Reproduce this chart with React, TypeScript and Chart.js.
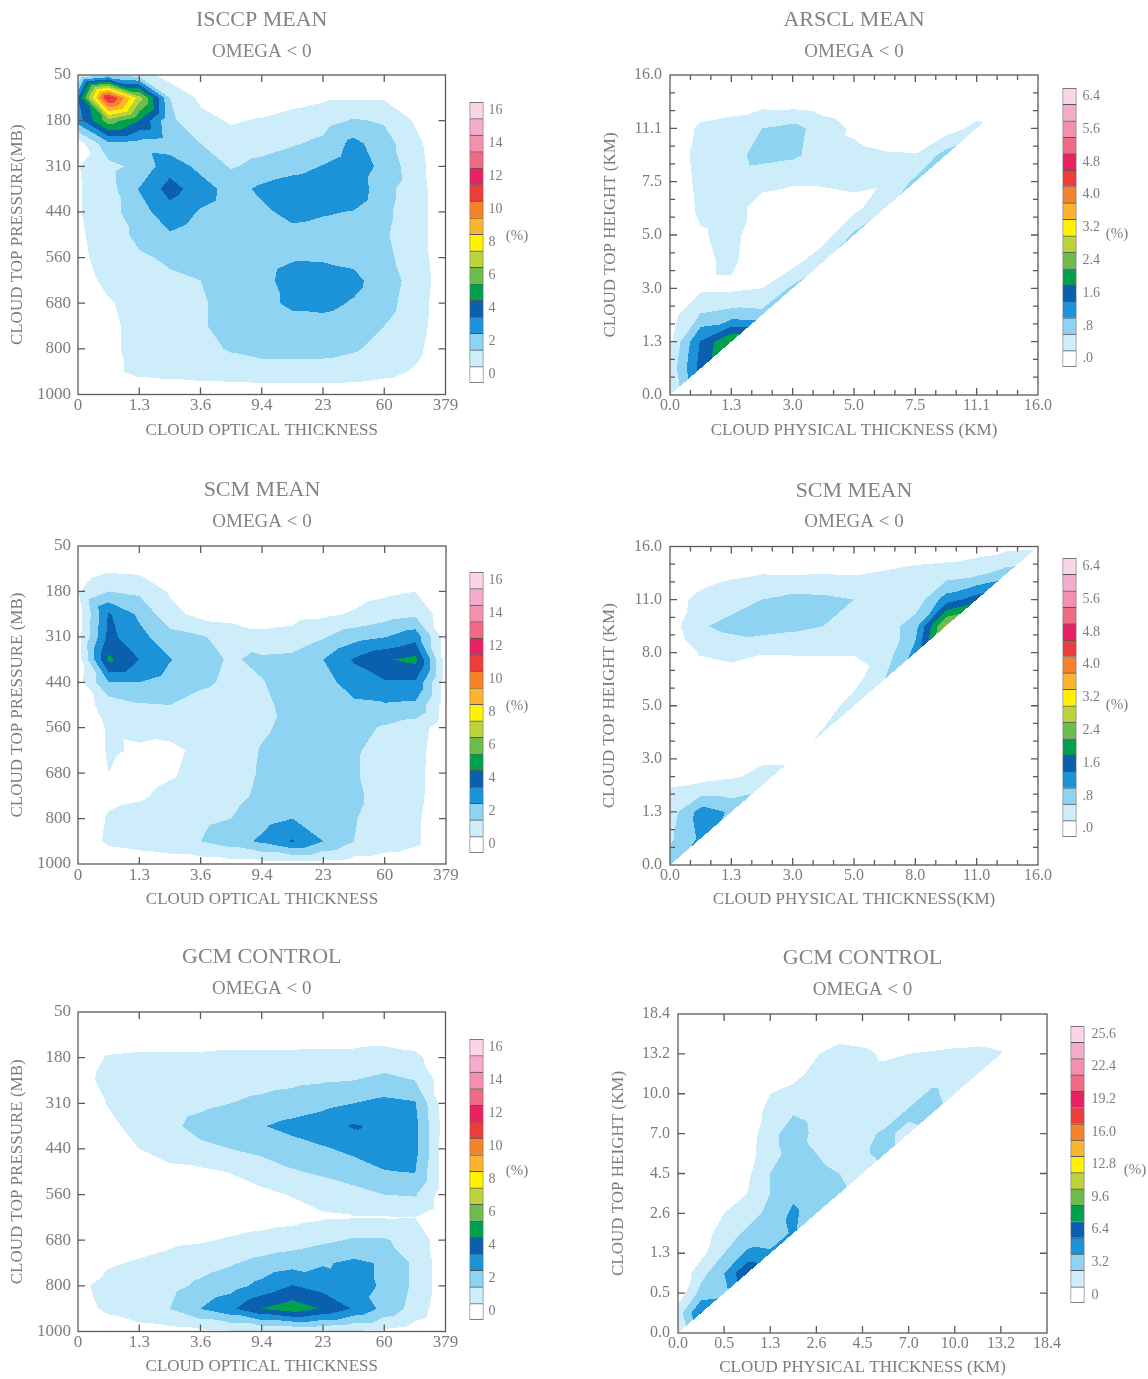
import React, { useEffect, useRef } from "react";
import { Chart, registerables } from "chart.js";

Chart.register(...registerables);

const SERIF = '"Liberation Serif", "Times New Roman", Times, serif';
const LABEL_COLOR = "#7c7c7c";
const TITLE_COLOR = "#838383";
const FRAME_COLOR = "#5a5a5a";

// contour level colours (level 0 = blank)
const LEVEL_COLORS = [
  "#ffffff", "#cdedfa", "#8fd3f3", "#1c93d8", "#0b60ae", "#00a04e",
  "#6cbd4b", "#bdd33a", "#fff100", "#fbb42d", "#f5832b", "#ee3b3b",
  "#e82260", "#ef6b84", "#f490ad", "#f5abcc", "#fad4e7",
];

// axis tick labels
const TAU_LABELS = ["0", "1.3", "3.6", "9.4", "23", "60", "379"];
const PC_LABELS = ["50", "180", "310", "440", "560", "680", "800", "1000"];
const ARSCL_KM_LABELS = ["0.0", "1.3", "3.0", "5.0", "7.5", "11.1", "16.0"];
const SCM_KM_LABELS = ["0.0", "1.3", "3.0", "5.0", "8.0", "11.0", "16.0"];
const GCM_KM_LABELS = ["0.0", "0.5", "1.3", "2.6", "4.5", "7.0", "10.0", "13.2", "18.4"];

// colour-bar labels
const CB_PCT_LABELS = ["0", "2", "4", "6", "8", "10", "12", "14", "16"];
const CB_RADAR_LABELS = [".0", ".8", "1.6", "2.4", "3.2", "4.0", "4.8", "5.6", "6.4"];
const CB_GCM_LABELS = ["0", "3.2", "6.4", "9.6", "12.8", "16.0", "19.2", "22.4", "25.6"];

// Cloud fraction (%) at half-bin nodes. Left panels: rows from top (50 mb) down to 1000 mb,
// columns from tau 0 to 379.  Right panels: rows from the top of the height axis downward.
const ISCCP_GRID = [
  [0.8, 2.0, 1.5, 0.5, 0, 0, 0, 0, 0, 0, 0, 0, 0],
  [4.0, 12.5, 7.5, 2.0, 0.8, 0.3, 0.3, 0.6, 0.85, 0.9, 0.9, 0.3, 0],
  [3.5, 6.6, 5.0, 2.2, 1.3, 0.9, 1.1, 1.4, 1.6, 2.1, 1.9, 0.9, 0],
  [0.5, 2.8, 2.6, 2.4, 2.0, 1.4, 1.6, 1.9, 2.2, 3.3, 2.4, 1.3, 0.2],
  [0.95, 1.7, 2.3, 3.6, 2.7, 1.9, 2.3, 2.6, 3.05, 3.6, 2.7, 1.4, 0.3],
  [0.9, 1.6, 3.05, 4.4, 3.5, 2.6, 3.2, 3.6, 3.8, 3.7, 2.3, 1.5, 0.3],
  [0.9, 1.6, 2.6, 3.6, 2.9, 2.5, 2.8, 3.3, 3.1, 2.95, 2.2, 1.5, 0.3],
  [0.8, 1.6, 2.2, 2.9, 2.5, 2.4, 2.5, 2.7, 2.6, 2.5, 2.1, 1.5, 0.3],
  [0.7, 1.5, 1.9, 2.1, 2.3, 2.4, 2.6, 2.9, 2.85, 2.7, 2.2, 1.6, 0.3],
  [0.5, 1.3, 1.6, 1.9, 2.0, 2.3, 2.7, 3.4, 3.6, 3.3, 2.4, 1.7, 0.4],
  [0.4, 0.9, 1.4, 1.6, 1.9, 2.3, 2.7, 3.2, 3.3, 2.9, 2.3, 1.6, 0.3],
  [0.3, 0.8, 1.3, 1.5, 1.9, 2.3, 2.5, 2.6, 2.6, 2.4, 2.0, 1.5, 0.3],
  [0.2, 0.8, 1.3, 1.5, 1.7, 2.1, 2.3, 2.3, 2.3, 2.1, 1.7, 1.3, 0.2],
  [0.1, 0.8, 1.2, 1.3, 1.4, 1.5, 1.6, 1.6, 1.6, 1.5, 1.3, 0.9, 0.1],
  [0, 0.2, 0.4, 0.4, 0.4, 0.4, 0.4, 0.4, 0.4, 0.4, 0.3, 0.2, 0],
];

const SCM_PC_GRID = [
  [0, 0, 0, 0, 0, 0, 0, 0, 0, 0, 0, 0, 0],
  [0.3, 0.8, 0.7, 0.2, 0, 0, 0, 0, 0, 0, 0.2, 0.4, 0],
  [0.9, 2.0, 1.8, 0.9, 0.3, 0.2, 0.2, 0.2, 0.3, 0.6, 0.8, 1.0, 0.2],
  [0.5, 4.1, 2.8, 1.3, 0.7, 0.6, 0.6, 0.7, 0.8, 1.1, 1.5, 1.8, 0.4],
  [0.6, 4.3, 3.3, 2.4, 2.1, 1.6, 1.2, 1.3, 1.9, 2.6, 2.95, 3.6, 0.5],
  [0.5, 5.2, 4.0, 3.05, 2.3, 1.9, 2.2, 2.3, 3.0, 4.1, 4.9, 5.3, 0.5],
  [0.6, 3.0, 3.0, 2.6, 2.2, 1.8, 1.95, 2.4, 2.6, 3.5, 3.9, 3.9, 0.5],
  [0.5, 1.4, 1.9, 2.0, 1.6, 1.4, 1.8, 2.3, 2.5, 2.8, 2.9, 2.8, 0.5],
  [0.3, 1.1, 1.2, 1.3, 1.4, 1.6, 1.9, 2.2, 2.5, 2.3, 1.9, 1.5, 0.4],
  [0.2, 1.1, 0.9, 0.8, 1.2, 1.6, 2.05, 2.3, 2.4, 2.1, 1.7, 1.4, 0.3],
  [0.1, 1.0, 0.7, 0.9, 1.3, 1.6, 2.1, 2.4, 2.4, 2.1, 1.6, 1.3, 0.3],
  [0.1, 0.8, 0.9, 1.2, 1.4, 1.7, 2.2, 2.5, 2.5, 2.2, 1.6, 1.3, 0.3],
  [0.2, 1.1, 1.3, 1.5, 1.8, 2.0, 2.6, 3.0, 2.6, 2.05, 1.6, 1.2, 0.2],
  [0.3, 1.2, 1.4, 1.6, 2.0, 2.5, 3.2, 4.1, 3.0, 2.0, 1.6, 1.2, 0.2],
  [0, 0.2, 0.4, 0.5, 0.5, 0.6, 0.6, 0.6, 0.6, 0.5, 0.4, 0.3, 0],
];

const GCM_PC_GRID = [
  [0, 0, 0, 0, 0, 0, 0, 0, 0, 0, 0, 0, 0],
  [0, 0.3, 0.4, 0.4, 0.4, 0.4, 0.4, 0.4, 0.4, 0.4, 0.4, 0.3, 0],
  [0.4, 1.1, 1.2, 1.2, 1.2, 1.3, 1.3, 1.3, 1.4, 1.4, 1.6, 1.3, 0.2],
  [0.5, 1.4, 1.4, 1.4, 1.5, 1.6, 1.7, 1.8, 1.9, 2.0, 2.2, 2.0, 0.4],
  [0.6, 1.05, 1.4, 1.6, 1.8, 2.0, 2.2, 2.4, 2.7, 3.0, 3.3, 3.1, 0.4],
  [0.3, 0.8, 1.3, 1.8, 2.3, 2.6, 2.95, 3.3, 3.6, 4.1, 3.8, 3.3, 0.5],
  [0.1, 0.6, 1.0, 1.5, 1.8, 2.0, 2.3, 2.6, 2.9, 3.2, 3.5, 3.3, 0.4],
  [0, 0.3, 0.6, 0.7, 0.8, 1.05, 1.4, 1.9, 2.2, 2.6, 2.95, 3.05, 0.4],
  [0, 0.1, 0.2, 0.3, 0.4, 0.5, 0.8, 1.05, 1.3, 1.6, 2.0, 2.1, 0.4],
  [0, 0.1, 0.2, 0.3, 0.4, 0.5, 0.6, 0.7, 0.9, 0.95, 0.95, 1.0, 0.3],
  [0, 0.4, 0.6, 0.8, 0.9, 1.1, 1.3, 1.5, 1.8, 2.1, 2.1, 1.6, 0.4],
  [0.3, 0.9, 1.1, 1.3, 1.6, 1.9, 2.3, 2.6, 2.9, 3.2, 2.9, 1.8, 0.4],
  [0.8, 1.3, 1.5, 1.7, 2.2, 2.6, 3.3, 4.05, 3.6, 3.3, 2.9, 1.8, 0.4],
  [0.6, 1.2, 1.6, 2.0, 3.0, 3.8, 5.0, 5.6, 4.9, 3.9, 2.7, 1.6, 0.3],
  [0, 0.4, 0.6, 0.7, 0.8, 0.9, 1.0, 1.0, 1.0, 0.9, 0.8, 0.5, 0],
];

const ARSCL_GRID = [
  [0, 0, 0, 0, 0, 0, 0, 0, 0, 0, 0, 0, 0],
  [0, 0.12, 0.2, 0.24, 0.2, 0.12, 0, 0, 0, 0, 0.08, 0, 0],
  [0.12, 0.48, 0.56, 0.8, 0.92, 0.64, 0.32, 0.16, 0.12, 0.2, 0.52, 0, 0],
  [0.12, 0.56, 0.64, 0.96, 0.88, 0.6, 0.52, 0.44, 0.42, 0.96, 0, 0, 0],
  [0.08, 0.52, 0.56, 0.48, 0.44, 0.44, 0.48, 0.44, 0.88, 0, 0, 0, 0],
  [0.04, 0.48, 0.52, 0.28, 0.2, 0.24, 0.28, 0.72, 0, 0, 0, 0, 0],
  [0.02, 0.36, 0.52, 0.16, 0.12, 0.2, 0.88, 0, 0, 0, 0, 0, 0],
  [0, 0.32, 0.48, 0.12, 0.24, 0.72, 0, 0, 0, 0, 0, 0, 0],
  [0.08, 0.32, 0.32, 0.4, 0.88, 0, 0, 0, 0, 0, 0, 0, 0],
  [0.24, 0.84, 0.96, 0.92, 0, 0, 0, 0, 0, 0, 0, 0, 0],
  [0.36, 1.64, 2.44, 0, 0, 0, 0, 0, 0, 0, 0, 0, 0],
  [0.52, 1.76, 0, 0, 0, 0, 0, 0, 0, 0, 0, 0, 0],
  [0.36, 0, 0, 0, 0, 0, 0, 0, 0, 0, 0, 0, 0],
];

const SCM_KM_GRID = [
  [0, 0, 0, 0, 0, 0, 0, 0, 0.12, 0.16, 0.2, 0.28, 0.32],
  [0, 0.12, 0.32, 0.38, 0.36, 0.38, 0.36, 0.44, 0.52, 0.56, 0.68, 0.96, 0],
  [0.16, 0.56, 0.64, 0.8, 0.92, 0.88, 0.8, 0.56, 0.52, 1.4, 1.8, 0, 0],
  [0.2, 0.76, 0.92, 1.0, 0.92, 0.8, 0.68, 0.56, 1.04, 2.92, 0, 0, 0],
  [0.04, 0.44, 0.52, 0.42, 0.42, 0.42, 0.42, 0.56, 1.32, 0, 0, 0, 0],
  [0, 0.12, 0.2, 0.2, 0.24, 0.28, 0.24, 0.8, 0, 0, 0, 0, 0],
  [0, 0, 0.12, 0.08, 0.12, 0.16, 0.6, 0, 0, 0, 0, 0, 0],
  [0, 0.08, 0, 0, 0.12, 0.44, 0, 0, 0, 0, 0, 0, 0],
  [0.08, 0.2, 0.28, 0.32, 0.32, 0, 0, 0, 0, 0, 0, 0, 0],
  [0.38, 0.42, 0.44, 0.64, 0, 0, 0, 0, 0, 0, 0, 0, 0],
  [0.6, 1.36, 1.16, 0, 0, 0, 0, 0, 0, 0, 0, 0, 0],
  [0.72, 1.28, 0, 0, 0, 0, 0, 0, 0, 0, 0, 0, 0],
  [1.04, 0, 0, 0, 0, 0, 0, 0, 0, 0, 0, 0, 0],
];

const GCM_KM_GRID = [
  [0, 0, 0, 0, 0, 0, 0, 0, 0, 0, 0, 0, 0, 0, 0, 0, 0],
  [0, 0, 0, 0, 0, 0, 0.48, 1.12, 0.96, 0.64, 0.48, 0.64, 0.8, 0.8, 0.64, 0, 0],
  [0, 0, 0, 0, 0, 0.96, 1.52, 2.08, 1.92, 1.36, 1.6, 1.76, 1.92, 2.08, 1.76, 0, 0],
  [0, 0, 0, 0.48, 1.28, 1.28, 1.92, 2.24, 2.08, 2.08, 2.24, 2.4, 2.4, 2.24, 0, 0, 0],
  [0, 0, 0, 0.48, 1.6, 1.92, 2.08, 2.24, 2.08, 2.08, 2.4, 3.52, 2.56, 0, 0, 0, 0],
  [0, 0, 0.64, 0.8, 2.08, 3.12, 2.56, 2.24, 2.24, 2.4, 3.52, 3.84, 0, 0, 0, 0, 0],
  [0, 0, 0.32, 0.8, 2.56, 4.16, 2.72, 2.4, 2.72, 3.52, 2.72, 0, 0, 0, 0, 0, 0],
  [0, 0, 0.32, 0.96, 2.56, 3.84, 3.2, 2.72, 3.04, 3.52, 0, 0, 0, 0, 0, 0, 0],
  [0, 0, 0.32, 1.28, 3.2, 4.0, 3.52, 3.2, 2.56, 0, 0, 0, 0, 0, 0, 0, 0],
  [0, 0, 0.8, 1.6, 3.2, 4.48, 3.68, 3.52, 0, 0, 0, 0, 0, 0, 0, 0, 0],
  [0, 0.64, 1.6, 2.4, 3.68, 5.12, 3.84, 0, 0, 0, 0, 0, 0, 0, 0, 0, 0],
  [0, 0.8, 2.4, 3.52, 4.16, 4.96, 0, 0, 0, 0, 0, 0, 0, 0, 0, 0, 0],
  [0, 1.12, 3.2, 5.12, 4.96, 0, 0, 0, 0, 0, 0, 0, 0, 0, 0, 0, 0],
  [0.32, 2.56, 4.8, 8.0, 0, 0, 0, 0, 0, 0, 0, 0, 0, 0, 0, 0, 0],
  [0.48, 3.84, 4.16, 0, 0, 0, 0, 0, 0, 0, 0, 0, 0, 0, 0, 0, 0],
  [2.4, 6.56, 0, 0, 0, 0, 0, 0, 0, 0, 0, 0, 0, 0, 0, 0, 0],
  [1.28, 0, 0, 0, 0, 0, 0, 0, 0, 0, 0, 0, 0, 0, 0, 0, 0],
];

function hexToRgb(h: string): number[] {
  const n = parseInt(h.slice(1), 16);
  return [(n >> 16) & 255, (n >> 8) & 255, n & 255];
}
const LEVEL_RGB = LEVEL_COLORS.map(hexToRgb);

type GridSpec = { rows: number[][]; topIsMin: boolean; h: number; cStep: number; diag: boolean };

function clamp(v: number, a: number, b: number) {
  return v < a ? a : v > b ? b : v;
}

function nodeVal(g: GridSpec, ix: number, iy: number) {
  const nR = g.rows.length;
  return g.rows[g.topIsMin ? iy : nR - 1 - iy][ix];
}

function sampleGrid(g: GridSpec, xv: number, yv: number) {
  const nR = g.rows.length;
  const nC = g.rows[0].length;
  const fx = xv / g.h;
  const fy = yv / g.h;
  const ix = clamp(Math.floor(fx), 0, nC - 2);
  const iy = clamp(Math.floor(fy), 0, nR - 2);
  const u = clamp(fx - ix, 0, 1);
  const w = clamp(fy - iy, 0, 1);
  const A = nodeVal(g, ix, iy);
  const B = nodeVal(g, ix + 1, iy);
  const C = nodeVal(g, ix, iy + 1);
  const D = nodeVal(g, ix + 1, iy + 1);
  if (w >= u) return A + (C - A) * w + (D - C) * u;
  return A + (B - A) * u + (D - B) * w;
}

function makeContourPlugin(g: GridSpec) {
  return {
    id: "contourFill",
    beforeDatasetsDraw(chart: any) {
      const { left, right, top, bottom } = chart.chartArea;
      const x0 = Math.round(left);
      const x1 = Math.round(right);
      const y0 = Math.round(top);
      const y1 = Math.round(bottom);
      const w = x1 - x0;
      const hh = y1 - y0;
      if (w <= 0 || hh <= 0) return;
      const off = document.createElement("canvas");
      off.width = w;
      off.height = hh;
      const octx = off.getContext("2d");
      if (!octx) return;
      const img = octx.createImageData(w, hh);
      const xs = chart.scales.x;
      const ys = chart.scales.y;
      const xvals = new Float64Array(w);
      for (let i = 0; i < w; i++) xvals[i] = xs.getValueForPixel(x0 + i + 0.5);
      for (let j = 0; j < hh; j++) {
        const yv = ys.getValueForPixel(y0 + j + 0.5);
        for (let i = 0; i < w; i++) {
          const xv = xvals[i];
          if (g.diag && yv < xv) continue;
          const v = sampleGrid(g, xv, yv);
          let lvl = Math.floor(v / g.cStep + 1e-6);
          if (lvl < 1) continue;
          if (lvl > 16) lvl = 16;
          const c = LEVEL_RGB[lvl];
          const k = (j * w + i) * 4;
          img.data[k] = c[0];
          img.data[k + 1] = c[1];
          img.data[k + 2] = c[2];
          img.data[k + 3] = 255;
        }
      }
      octx.putImageData(img, 0, 0);
      chart.ctx.drawImage(off, x0, y0);
    },
  };
}

function makeFramePlugin(nx: number, ny: number, minor: number) {
  return {
    id: "frameTicks",
    afterDraw(chart: any) {
      const { left, right, top, bottom } = chart.chartArea;
      const ctx = chart.ctx;
      const xs = chart.scales.x;
      const ys = chart.scales.y;
      ctx.save();
      ctx.strokeStyle = FRAME_COLOR;
      ctx.lineWidth = 1.3;
      ctx.beginPath();
      for (let i = 1; i < nx * minor; i++) {
        const len = i % minor === 0 ? 7 : 5;
        const p = xs.getPixelForValue(i / minor);
        ctx.moveTo(p, bottom);
        ctx.lineTo(p, bottom - len);
        ctx.moveTo(p, top);
        ctx.lineTo(p, top + len);
      }
      for (let i = 1; i < ny * minor; i++) {
        const len = i % minor === 0 ? 7 : 5;
        const p = ys.getPixelForValue(i / minor);
        ctx.moveTo(left, p);
        ctx.lineTo(left + len, p);
        ctx.moveTo(right, p);
        ctx.lineTo(right - len, p);
      }
      ctx.stroke();
      ctx.strokeRect(left, top, right - left, bottom - top);
      ctx.restore();
    },
  };
}

type PanelCfg = {
  key: string;
  left: number;
  top: number;
  width: number;
  height: number;
  area: { l: number; r: number; t: number; b: number };
  title: string;
  subtitle: string;
  titleY: number;
  subtitleY: number;
  xTitle: string;
  xTitleY: number;
  yTitle: string;
  yTitleX: number;
  xLabels: string[];
  yLabels: string[];
  yReverse: boolean;
  grid: number[][];
  cStep: number;
  diag: boolean;
  minor: number;
  tickFont: number;
  yPad: number;
};

const PANELS: PanelCfg[] = [
  {
    key: "isccp", left: 0, top: 0, width: 470, height: 445,
    area: { l: 78, r: 445.5, t: 75, b: 394.5 },
    title: "ISCCP MEAN", subtitle: "OMEGA < 0", titleY: 20.5, subtitleY: 52.5,
    xTitle: "CLOUD OPTICAL THICKNESS", xTitleY: 431, yTitle: "CLOUD TOP PRESSURE(MB)", yTitleX: 18,
    xLabels: TAU_LABELS, yLabels: PC_LABELS, yReverse: true,
    grid: ISCCP_GRID, cStep: 1, diag: false, minor: 1, tickFont: 17, yPad: 7,
  },
  {
    key: "arscl", left: 590, top: 0, width: 473, height: 445,
    area: { l: 670, r: 1038, t: 75, b: 395 },
    title: "ARSCL MEAN", subtitle: "OMEGA < 0", titleY: 20.5, subtitleY: 52.5,
    xTitle: "CLOUD PHYSICAL THICKNESS (KM)", xTitleY: 430.5, yTitle: "CLOUD TOP HEIGHT (KM)", yTitleX: 611,
    xLabels: ARSCL_KM_LABELS, yLabels: ARSCL_KM_LABELS, yReverse: false,
    grid: ARSCL_GRID, cStep: 0.4, diag: true, minor: 3, tickFont: 16, yPad: 8,
  },
  {
    key: "scmL", left: 0, top: 465, width: 470, height: 445,
    area: { l: 78, r: 446, t: 546, b: 864 },
    title: "SCM MEAN", subtitle: "OMEGA < 0", titleY: 490.5, subtitleY: 522,
    xTitle: "CLOUD OPTICAL THICKNESS", xTitleY: 899.5, yTitle: "CLOUD TOP PRESSURE (MB)", yTitleX: 18,
    xLabels: TAU_LABELS, yLabels: PC_LABELS, yReverse: true,
    grid: SCM_PC_GRID, cStep: 1, diag: false, minor: 1, tickFont: 17, yPad: 7,
  },
  {
    key: "scmR", left: 590, top: 465, width: 473, height: 445,
    area: { l: 670, r: 1038, t: 546.5, b: 865 },
    title: "SCM MEAN", subtitle: "OMEGA < 0", titleY: 491, subtitleY: 522.5,
    xTitle: "CLOUD PHYSICAL THICKNESS(KM)", xTitleY: 900, yTitle: "CLOUD TOP HEIGHT (KM)", yTitleX: 610,
    xLabels: SCM_KM_LABELS, yLabels: SCM_KM_LABELS, yReverse: false,
    grid: SCM_KM_GRID, cStep: 0.4, diag: true, minor: 3, tickFont: 16, yPad: 8,
  },
  {
    key: "gcmL", left: 0, top: 930, width: 470, height: 449,
    area: { l: 78, r: 445.5, t: 1012, b: 1331.5 },
    title: "GCM CONTROL", subtitle: "OMEGA < 0", titleY: 957.5, subtitleY: 989,
    xTitle: "CLOUD OPTICAL THICKNESS", xTitleY: 1366.5, yTitle: "CLOUD TOP PRESSURE (MB)", yTitleX: 18,
    xLabels: TAU_LABELS, yLabels: PC_LABELS, yReverse: true,
    grid: GCM_PC_GRID, cStep: 1, diag: false, minor: 1, tickFont: 17, yPad: 7,
  },
  {
    key: "gcmR", left: 590, top: 930, width: 482, height: 449,
    area: { l: 678, r: 1047, t: 1014, b: 1333 },
    title: "GCM CONTROL", subtitle: "OMEGA < 0", titleY: 958.5, subtitleY: 990,
    xTitle: "CLOUD PHYSICAL THICKNESS (KM)", xTitleY: 1367.5, yTitle: "CLOUD TOP HEIGHT (KM)", yTitleX: 619,
    xLabels: GCM_KM_LABELS, yLabels: GCM_KM_LABELS, yReverse: false,
    grid: GCM_KM_GRID, cStep: 1.6, diag: true, minor: 1, tickFont: 16, yPad: 8,
  },
];

const TITLE_SIZE = 22;
const SUBTITLE_SIZE = 19;

function buildPanelConfig(p: PanelCfg): any {
  const lh1 = TITLE_SIZE * 1.2;
  const lh2 = SUBTITLE_SIZE * 1.2;
  const lhx = 17 * 1.2;
  const nx = p.xLabels.length - 1;
  const ny = p.yLabels.length - 1;
  const g: GridSpec = { rows: p.grid, topIsMin: p.yReverse, h: 0.5, cStep: p.cStep, diag: p.diag };
  const nodes: { x: number; y: number }[] = [];
  p.grid.forEach((row, r) =>
    row.forEach((_v, c) => {
      const y = p.yReverse ? r * 0.5 : (p.grid.length - 1 - r) * 0.5;
      nodes.push({ x: c * 0.5, y });
    })
  );
  const titleBottom = p.titleY + lh1 / 2;
  const tickFont = { family: SERIF, size: p.tickFont, lineHeight: 1 };
  return {
    type: "scatter",
    data: { datasets: [{ data: nodes, pointRadius: 0, pointHoverRadius: 0, showLine: false }] },
    options: {
      responsive: false,
      animation: false,
      devicePixelRatio: 1,
      events: [],
      layout: {
        autoPadding: false,
        padding: { left: 0, top: 0, bottom: 0, right: p.left + p.width - p.area.r },
      },
      plugins: {
        legend: { display: false },
        tooltip: { enabled: false },
        title: {
          display: true, text: p.title, color: TITLE_COLOR, fullSize: false,
          font: { family: SERIF, size: TITLE_SIZE, weight: "normal", lineHeight: 1.2 },
          padding: { top: p.titleY - p.top - lh1 / 2, bottom: 0 },
        },
        subtitle: {
          display: true, text: p.subtitle, color: TITLE_COLOR, fullSize: false,
          font: { family: SERIF, size: SUBTITLE_SIZE, weight: "normal", lineHeight: 1.2 },
          padding: { top: p.subtitleY - lh2 / 2 - titleBottom, bottom: p.area.t - (p.subtitleY + lh2 / 2) },
        },
      },
      scales: {
        x: {
          type: "linear", min: 0, max: nx,
          grid: { display: false, drawTicks: false }, border: { display: false },
          ticks: {
            stepSize: 1, autoSkip: false, maxRotation: 0, padding: 3, color: LABEL_COLOR, font: tickFont,
            callback: (v: number) => p.xLabels[Math.round(v)] ?? "",
          },
          title: {
            display: true, text: p.xTitle, color: LABEL_COLOR,
            font: { family: SERIF, size: 17, lineHeight: 1.2 },
            padding: { top: 0, bottom: p.top + p.height - p.xTitleY - lhx / 2 },
          },
          afterFit: (s: any) => { s.height = p.top + p.height - p.area.b; },
        },
        y: {
          type: "linear", min: 0, max: ny, reverse: p.yReverse,
          grid: { display: false, drawTicks: false }, border: { display: false },
          ticks: {
            stepSize: 1, autoSkip: false, padding: p.yPad, color: LABEL_COLOR, font: tickFont,
            callback: (v: number) => p.yLabels[Math.round(v)] ?? "",
          },
          title: {
            display: true, text: p.yTitle, color: LABEL_COLOR,
            font: { family: SERIF, size: 17, lineHeight: 1.2 },
            padding: { top: p.yTitleX - p.left - lhx / 2, bottom: 0 },
          },
          afterFit: (s: any) => { s.width = p.area.l - p.left; },
        },
      },
    },
    plugins: [makeContourPlugin(g), makeFramePlugin(nx, ny, p.minor)],
  };
}

type CbCfg = {
  key: string;
  left: number;
  top: number;
  width: number;
  height: number;
  box: { l: number; r: number; t: number; b: number };
  labels: string[];
  pctX: number;
  pctY: number;
  labelPad: number;
};

const COLORBARS: CbCfg[] = [
  { key: "cb1", left: 460, top: 90, width: 85, height: 305, box: { l: 469.5, r: 483.5, t: 100.6, b: 385.4 }, labels: CB_PCT_LABELS, pctX: 517, pctY: 236, labelPad: 5 },
  { key: "cb2", left: 1055, top: 75, width: 93, height: 305, box: { l: 1062.5, r: 1076.5, t: 84.7, b: 368.4 }, labels: CB_RADAR_LABELS, pctX: 1117, pctY: 234, labelPad: 6 },
  { key: "cb3", left: 460, top: 560, width: 85, height: 305, box: { l: 469.5, r: 483.5, t: 571.6, b: 856.4 }, labels: CB_PCT_LABELS, pctX: 517, pctY: 706, labelPad: 5 },
  { key: "cb4", left: 1055, top: 545, width: 93, height: 305, box: { l: 1062.5, r: 1076.5, t: 555.7, b: 839.4 }, labels: CB_RADAR_LABELS, pctX: 1117, pctY: 705, labelPad: 6 },
  { key: "cb5", left: 460, top: 1027, width: 85, height: 305, box: { l: 469.5, r: 483.5, t: 1037.6, b: 1322.4 }, labels: CB_PCT_LABELS, pctX: 517, pctY: 1171, labelPad: 5 },
  { key: "cb6", left: 1062, top: 1012, width: 86, height: 305, box: { l: 1070.5, r: 1084.5, t: 1022.6, b: 1307.4 }, labels: CB_GCM_LABELS, pctX: 1135, pctY: 1170, labelPad: 7 },
];

function buildColorbarConfig(c: CbCfg): any {
  const levels = LEVEL_COLORS.map((_col, k) => k);
  const tickPos = c.labels.map((_l, i) => i * 2 + 0.5);
  const pctPlugin = {
    id: "pctLabel",
    afterDraw(chart: any) {
      const ctx = chart.ctx;
      ctx.save();
      ctx.font = `15px ${SERIF}`;
      ctx.fillStyle = LABEL_COLOR;
      ctx.textAlign = "center";
      ctx.textBaseline = "middle";
      ctx.fillText("(%)", c.pctX - c.left, c.pctY - c.top);
      ctx.restore();
    },
  };
  return {
    type: "bar",
    data: {
      labels: [""],
      datasets: levels.map((k) => ({
        data: [[k, k + 1]],
        backgroundColor: LEVEL_COLORS[k],
        borderColor: "#555555",
        borderWidth: k === 0 ? 1 : { top: 1, left: 1, right: 1, bottom: 0 },
        borderSkipped: false,
        grouped: false,
        barPercentage: 1,
        categoryPercentage: 1,
      })),
    },
    options: {
      responsive: false,
      animation: false,
      devicePixelRatio: 1,
      events: [],
      layout: {
        autoPadding: false,
        padding: { left: c.box.l - c.left, top: c.box.t - c.top, bottom: c.top + c.height - c.box.b, right: 0 },
      },
      plugins: { legend: { display: false }, tooltip: { enabled: false }, title: { display: false } },
      scales: {
        x: { display: false },
        y: {
          min: 0, max: 17, position: "right",
          grid: { display: false, drawTicks: false }, border: { display: false },
          afterBuildTicks: (s: any) => { s.ticks = tickPos.map((v) => ({ value: v })); },
          ticks: {
            padding: c.labelPad, color: LABEL_COLOR, autoSkip: false,
            font: { family: SERIF, size: 14, lineHeight: 1 },
            callback: (v: number) => c.labels[Math.round((v - 0.5) / 2)] ?? "",
          },
          afterFit: (s: any) => { s.width = c.left + c.width - c.box.r; },
        },
      },
    },
    plugins: [pctPlugin],
  };
}

function PanelChart({ p }: { p: PanelCfg }) {
  const ref = useRef<HTMLCanvasElement>(null);
  useEffect(() => {
    if (!ref.current) return;
    const chart = new Chart(ref.current, buildPanelConfig(p));
    return () => chart.destroy();
  }, [p]);
  return (
    <canvas
      ref={ref}
      width={p.width}
      height={p.height}
      style={{ position: "absolute", left: p.left, top: p.top, width: p.width, height: p.height }}
    />
  );
}

function ColorbarChart({ c }: { c: CbCfg }) {
  const ref = useRef<HTMLCanvasElement>(null);
  useEffect(() => {
    if (!ref.current) return;
    const chart = new Chart(ref.current, buildColorbarConfig(c));
    return () => chart.destroy();
  }, [c]);
  return (
    <canvas
      ref={ref}
      width={c.width}
      height={c.height}
      style={{ position: "absolute", left: c.left, top: c.top, width: c.width, height: c.height }}
    />
  );
}

export default function App() {
  return (
    <div style={{ position: "absolute", left: 0, top: 0, width: 1148, height: 1379, background: "#ffffff", overflow: "hidden" }}>
      {PANELS.map((p) => (
        <PanelChart key={p.key} p={p} />
      ))}
      {COLORBARS.map((c) => (
        <ColorbarChart key={c.key} c={c} />
      ))}
    </div>
  );
}
